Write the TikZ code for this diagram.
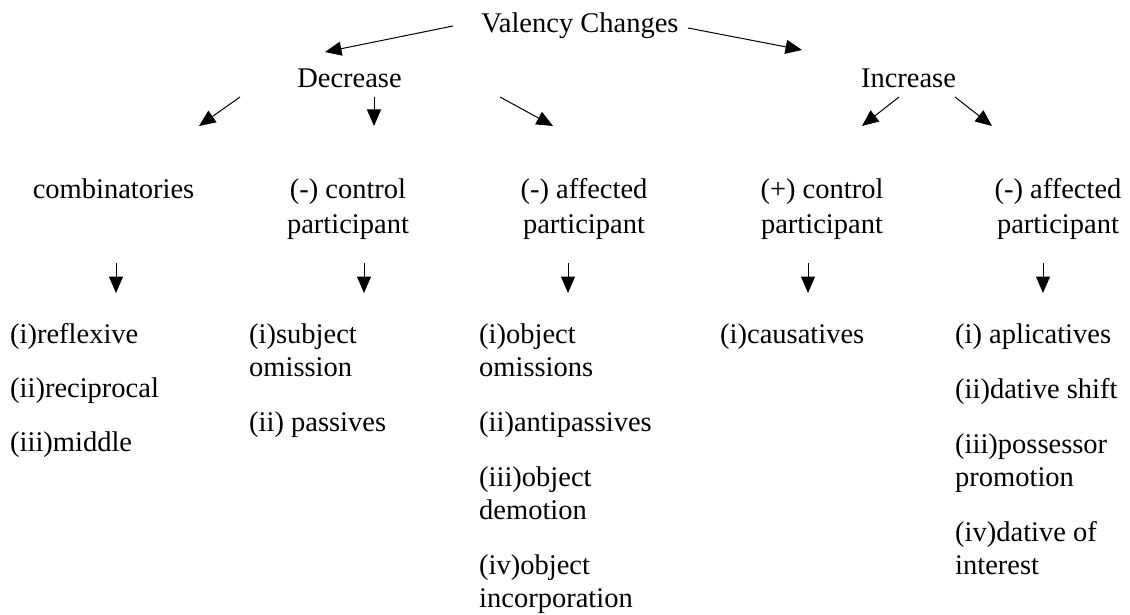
\documentclass[tikz,border=0pt]{standalone}
\usepackage{fontspec}
\setmainfont{Liberation Serif}
\usetikzlibrary{arrows.meta}
% two centred lines, baseline on the first line
\newcommand\pairc[2]{\vtop{\baselineskip=35pt\halign{\hfil##\hfil\cr#1\cr#2\cr}}}
% two left-aligned lines, baseline on the first line
\newcommand\pairl[2]{\vtop{\baselineskip=33pt\hbox{#1}\hbox{#2}}}

\begin{document}
\begin{tikzpicture}[x=1pt,y=-1pt,
  lbl/.style={inner sep=0pt, font=\fontsize{28.5}{33}\selectfont},
  head/.style={lbl, anchor=base},
  item/.style={lbl, anchor=base west},
  link/.style={-{Triangle[length=16.5pt,width=14pt]}, line width=1pt}]
\useasboundingbox (0,0) rectangle (1130,615);

% top levels
\node[head] (root) at (580,33) {Valency Changes};
\node[head] (dec)  at (349.5,88) {Decrease};
\node[head] (inc)  at (908.5,88) {Increase};

% categories
\node[head] (comb) at (113.5,198) {combinatories};
\node[head] (dctl) at (348,198) {\pairc{(-) control}{participant}};
\node[head] (daff) at (584,198) {\pairc{(-) affected}{participant}};
\node[head] (ictl) at (822,198) {\pairc{(+) control}{participant}};
\node[head] (iaff) at (1058,198) {\pairc{(-) affected}{participant}};

% combinatories
\node[item] (c1) at (10,343) {(i)reflexive};
\node[item] (c2) at (10,397) {(ii)reciprocal};
\node[item] (c3) at (10,451) {(iii)middle};

% (-) control participant
\node[item] (d1) at (249,343) {\pairl{(i)subject}{omission}};
\node[item] (d2) at (249,431) {(ii) passives};

% (-) affected participant
\node[item] (a1) at (479,343) {\pairl{(i)object}{omissions}};
\node[item] (a2) at (479,431) {(ii)antipassives};
\node[item] (a3) at (479,486) {\pairl{(iii)object}{demotion}};
\node[item] (a4) at (479,574) {\pairl{(iv)object}{incorporation}};

% (+) control participant
\node[item] (p1) at (720,343) {(i)causatives};

% (-) affected participant, increase side
\node[item] (q1) at (955,343) {(i) aplicatives};
\node[item] (q2) at (955,398) {(ii)dative shift};
\node[item] (q3) at (955,453) {\pairl{(iii)possessor}{promotion}};
\node[item] (q4) at (955,541) {\pairl{(iv)dative of}{interest}};

% arrow end points
\coordinate (r1s) at (453,26);  \coordinate (r1e) at (325,52);
\coordinate (r2s) at (688,28);  \coordinate (r2e) at (802,50);
\coordinate (d1s) at (240,97);  \coordinate (d1e) at (199,126);
\coordinate (d2s) at (374,97);  \coordinate (d2e) at (374,126);
\coordinate (d3s) at (500,97);  \coordinate (d3e) at (553,126);
\coordinate (i1s) at (899,97);  \coordinate (i1e) at (862,126);
\coordinate (i2s) at (955,97);  \coordinate (i2e) at (992,126);
\foreach \n/\x in {v1/116, v2/364, v3/568, v4/808, v5/1043}{
  \coordinate (\n s) at (\x,263);
  \coordinate (\n e) at (\x,293);
}

% arrows
\draw[link] (r1s) -- (r1e);
\draw[link] (r2s) -- (r2e);
\draw[link] (d1s) -- (d1e);
\draw[link] (d2s) -- (d2e);
\draw[link] (d3s) -- (d3e);
\draw[link] (i1s) -- (i1e);
\draw[link] (i2s) -- (i2e);
\foreach \n in {v1,v2,v3,v4,v5}{
  \draw[link] (\n s) -- (\n e);
}
\end{tikzpicture}
\end{document}
